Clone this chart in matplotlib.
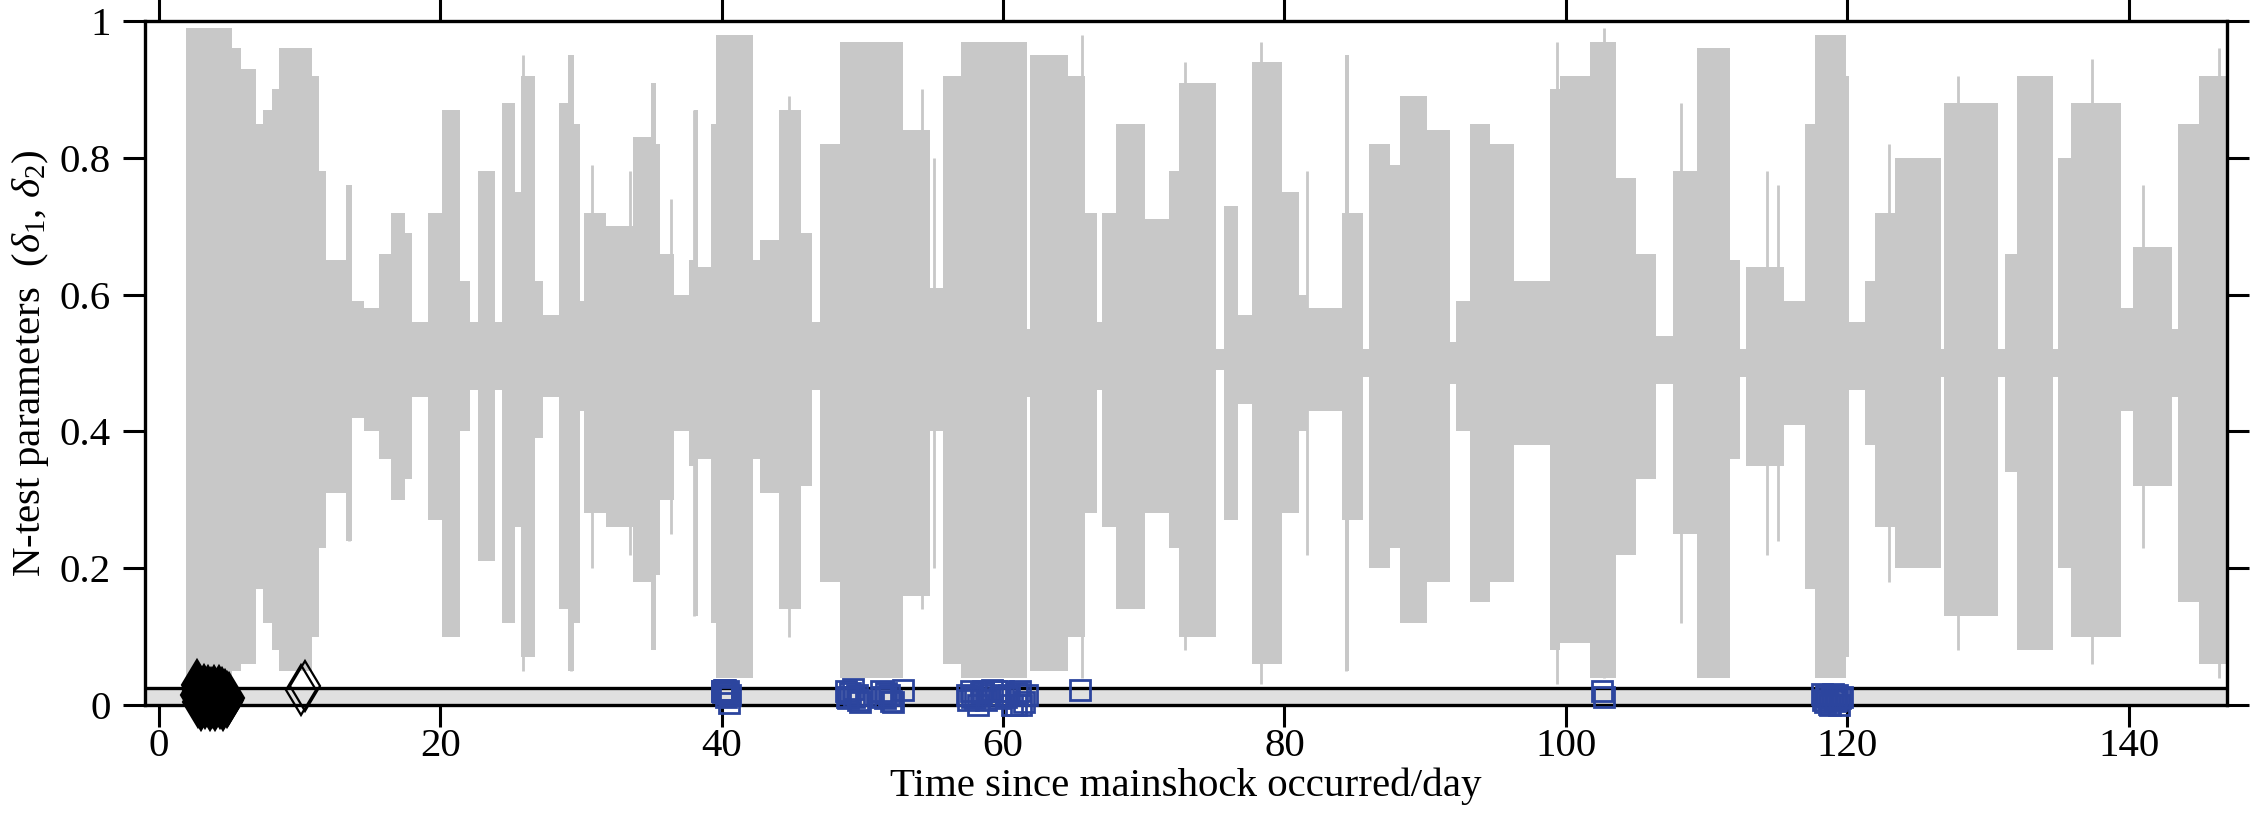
import matplotlib
matplotlib.use('Agg')
import matplotlib.pyplot as plt
import numpy as np

plt.rcParams['font.family'] = ['Liberation Serif', 'DejaVu Serif']
plt.rcParams['mathtext.fontset'] = 'custom'
plt.rcParams['mathtext.rm'] = 'Liberation Serif'
plt.rcParams['mathtext.it'] = 'Liberation Serif:italic'

# envelope of the N-test parameter traces, read per segment (start day, upper, lower)
seg_start = [1.9, 5.2, 5.8, 6.9, 7.4, 8.0, 8.5, 10.9, 11.4, 11.9, 13.3, 13.7, 14.6, 15.6, 16.5, 17.5, 18.0, 19.1,
             20.1, 21.4, 22.1, 22.7, 23.9, 24.4, 25.3, 25.7, 26.7, 27.3, 28.4, 29.1, 29.5, 29.9, 30.2, 31.8,
             33.7, 35.0, 35.3, 35.6, 36.6, 37.7, 38.0, 38.3, 39.2, 39.6, 42.2, 42.7, 44.1, 45.6, 46.4, 47.0,
             48.4, 52.9, 54.8, 55.7, 57.0, 61.7, 61.9, 64.6, 65.8, 66.7, 67.0, 68.0, 70.1, 71.8, 72.5, 75.1,
             75.7, 76.7, 77.7, 79.8, 81.0, 81.7, 84.1, 84.3, 84.6, 85.6, 86.0, 87.5, 88.2, 90.1, 91.8, 92.2,
             93.2, 94.6, 96.3, 98.9, 99.6, 101.7, 103.6, 105.0, 106.4, 107.6, 109.3, 111.7, 112.4, 112.8,
             115.5, 117.0, 117.7, 119.9, 120.1, 121.3, 122.0, 123.4, 126.7, 126.9, 130.7, 131.2, 132.1,
             134.6, 135.0, 135.9, 139.5, 140.3, 143.1, 143.5, 145.0, 147.0]
seg_hi = [0.99, 0.96, 0.93, 0.85, 0.87, 0.90, 0.96, 0.92, 0.78, 0.65, 0.76, 0.59, 0.58, 0.66, 0.72, 0.69, 0.56, 0.72,
          0.87, 0.62, 0.56, 0.78, 0.56, 0.88, 0.75, 0.92, 0.62, 0.57, 0.88, 0.95, 0.85, 0.59, 0.72, 0.70,
          0.83, 0.91, 0.82, 0.66, 0.60, 0.65, 0.87, 0.64, 0.85, 0.98, 0.65, 0.68, 0.87, 0.69, 0.56, 0.82,
          0.97, 0.84, 0.61, 0.92, 0.97, 0.55, 0.95, 0.92, 0.72, 0.56, 0.72, 0.85, 0.71, 0.78, 0.91, 0.52,
          0.73, 0.57, 0.94, 0.75, 0.60, 0.58, 0.72, 0.95, 0.72, 0.52, 0.82, 0.79, 0.89, 0.84, 0.53, 0.59,
          0.85, 0.82, 0.62, 0.90, 0.92, 0.97, 0.77, 0.66, 0.54, 0.78, 0.96, 0.65, 0.52, 0.64,
          0.59, 0.85, 0.98, 0.92, 0.56, 0.62, 0.72, 0.80, 0.52, 0.88, 0.52, 0.66, 0.92,
          0.52, 0.80, 0.88, 0.58, 0.67, 0.55, 0.85, 0.92]
seg_lo = [0.04, 0.05, 0.06, 0.17, 0.12, 0.08, 0.05, 0.10, 0.23, 0.31, 0.24, 0.42, 0.40, 0.36, 0.30, 0.33, 0.45, 0.27,
          0.10, 0.40, 0.46, 0.21, 0.46, 0.12, 0.26, 0.07, 0.39, 0.45, 0.14, 0.05, 0.12, 0.43, 0.28, 0.26,
          0.18, 0.08, 0.19, 0.30, 0.40, 0.35, 0.13, 0.36, 0.12, 0.04, 0.36, 0.31, 0.14, 0.32, 0.46, 0.18,
          0.04, 0.16, 0.40, 0.06, 0.04, 0.45, 0.05, 0.10, 0.28, 0.46, 0.26, 0.14, 0.28, 0.23, 0.10, 0.49,
          0.27, 0.44, 0.06, 0.28, 0.40, 0.43, 0.27, 0.05, 0.27, 0.48, 0.20, 0.23, 0.12, 0.18, 0.47, 0.40,
          0.15, 0.18, 0.38, 0.08, 0.09, 0.04, 0.22, 0.33, 0.47, 0.25, 0.04, 0.36, 0.48, 0.35,
          0.41, 0.17, 0.04, 0.07, 0.46, 0.38, 0.26, 0.20, 0.48, 0.13, 0.48, 0.34, 0.08,
          0.48, 0.20, 0.10, 0.43, 0.32, 0.45, 0.15, 0.06]

# single tall spikes
spike_t = [13.5, 25.9, 29.3, 30.8, 33.5, 36.4, 38.0, 44.8, 54.2, 55.1, 65.6, 72.9, 78.3, 81.6, 84.4,
           99.4, 102.7, 108.2, 114.3, 115.1, 123.0, 127.9, 137.4, 141.0, 146.4]
spike_hi = [0.76, 0.95, 0.95, 0.79, 0.78, 0.74, 0.87, 0.89, 0.90, 0.80, 0.98, 0.94, 0.97, 0.78, 0.95,
            0.97, 0.99, 0.88, 0.78, 0.76, 0.82, 0.92, 0.945, 0.76, 0.96]
spike_lo = [0.24, 0.05, 0.05, 0.20, 0.22, 0.25, 0.13, 0.10, 0.14, 0.20, 0.04, 0.08, 0.03, 0.22, 0.05,
            0.03, 0.04, 0.12, 0.22, 0.24, 0.18, 0.08, 0.06, 0.23, 0.04]

# delta_1 events (diamonds): dense cluster after the mainshock, plus two at day 10
dia_t = [2.6, 2.7, 2.75, 2.8, 2.9, 3.0, 3.05, 3.1, 3.2, 3.3, 3.35, 3.4, 3.5, 3.6, 3.65, 3.7, 3.8,
         3.9, 3.95, 4.0, 4.1, 4.2, 4.25, 4.3, 4.4, 4.5, 4.55, 4.6, 4.7, 4.8, 4.85, 4.9, 5.0]
dia_y = [0.015, 0.029, 0.005, 0.02, 0.01, 0.0, 0.018, 0.008, 0.022, 0.003, 0.015, 0.012, 0.02, 0.0,
         0.01, 0.017, 0.005, 0.02, 0.012, 0.0, 0.015, 0.008, 0.02, 0.003, 0.012, 0.018, 0.0, 0.01,
         0.015, 0.005, 0.012, 0.008, 0.01]
dia2_t = [10.1, 10.4]
dia2_y = [0.022, 0.028]

# delta_2 events (squares)
sq_t = [40.0, 40.05, 40.1, 40.15, 40.2, 40.25, 40.3, 40.35, 40.45, 40.5, 40.6,
        48.8, 48.9, 49.0, 49.1, 49.3, 49.4, 49.6, 49.7, 49.8, 51.3, 51.4, 51.6, 51.7, 51.9, 52.0, 52.2, 52.9,
        57.4, 57.5, 57.7, 57.8, 58.0, 58.2, 58.4, 58.6, 58.8, 59.0, 59.2, 59.5, 59.7, 60.0, 60.2,
        60.4, 60.6, 60.9, 61.0, 61.2, 61.3, 61.5, 61.7,
        65.5, 102.6, 102.7,
        118.2, 118.3, 118.4, 118.5, 118.6, 118.7, 118.8, 118.9, 119.0, 119.1, 119.2, 119.3, 119.4, 119.5, 119.6]
sq_y = [0.02, 0.021, 0.019, 0.022, 0.022, 0.02, 0.012, 0.018, 0.02, 0.003, 0.015,
        0.02, 0.012, 0.01, 0.018, 0.024, 0.012, 0.015, 0.008, 0.004, 0.02, 0.012, 0.01, 0.018, 0.015, 0.006,
        0.004, 0.022,
        0.015, 0.008, 0.02, 0.012, 0.01, 0.0, 0.018, 0.02, 0.008, 0.015, 0.022, 0.02, 0.01, 0.02, 0.012,
        0.015, 0.0, 0.0, 0.018, 0.02, 0.0, 0.005, 0.015,
        0.022, 0.02, 0.011,
        0.016, 0.008, 0.005, 0.014, 0.012, 0.002, 0.0, 0.01, 0.016, 0.006, 0.008, 0.014, 0.0, 0.01, 0.012]

xticks = [0, 20, 40, 60, 80, 100, 120, 140]
yticks = [0, 0.2, 0.4, 0.6, 0.8, 1]
ytick_labels = ['0', '0.2', '0.4', '0.6', '0.8', '1']

gray = '#c8c8c8'
blue = '#2c459e'
fs = 29.5

fig = plt.figure(figsize=(22.5, 8.22), dpi=100)
ax = fig.add_axes([145 / 2250, 1 - 705 / 822, 2082 / 2250, 684 / 822])

# gray trace envelope
hi_steps = seg_hi + [seg_hi[-1]]
lo_steps = seg_lo + [seg_lo[-1]]
ax.fill_between(seg_start, lo_steps, hi_steps, step='post', color=gray, lw=0, zorder=1)
ax.vlines(spike_t, spike_lo, spike_hi, color=gray, lw=2, zorder=1)

# band at the bottom
ax.axhspan(0, 0.025, color='#e0e0e0', lw=0, zorder=2)
ax.axhline(0.025, color='black', lw=2.4, zorder=3)

ax.plot(dia_t, dia_y, ls='none', marker='d', ms=25, mfc='black', mec='black', mew=1.6,
        clip_on=False, zorder=5)
ax.plot(dia2_t, dia2_y, ls='none', marker='d', ms=25, mfc='none', mec='black', mew=1.6,
        clip_on=False, zorder=5)
ax.plot(sq_t, sq_y, ls='none', marker='s', ms=14.5, mfc='none', mec=blue, mew=2.0,
        clip_on=False, zorder=5)

ax.set_xlim(-1, 147)
ax.set_ylim(0, 1)
ax.set_xticks(xticks)
ax.set_yticks(yticks)
ax.set_yticklabels(ytick_labels)

for s in ax.spines.values():
    s.set_linewidth(2.4)
ax.tick_params(axis='both', direction='out', length=15.5, width=2.2, labelsize=fs,
               top=True, right=True, labeltop=False, labelright=False)
ax.tick_params(axis='x', pad=1)
ax.tick_params(axis='y', pad=9)

ax.set_xlabel('Time since mainshock occurred/day', fontsize=fs, labelpad=2.2)
ax.set_ylabel(r'N-test parameters  ($\delta_1$, $\delta_2$)', fontsize=fs, labelpad=6.6)

fig.savefig('out.png', dpi=100)
